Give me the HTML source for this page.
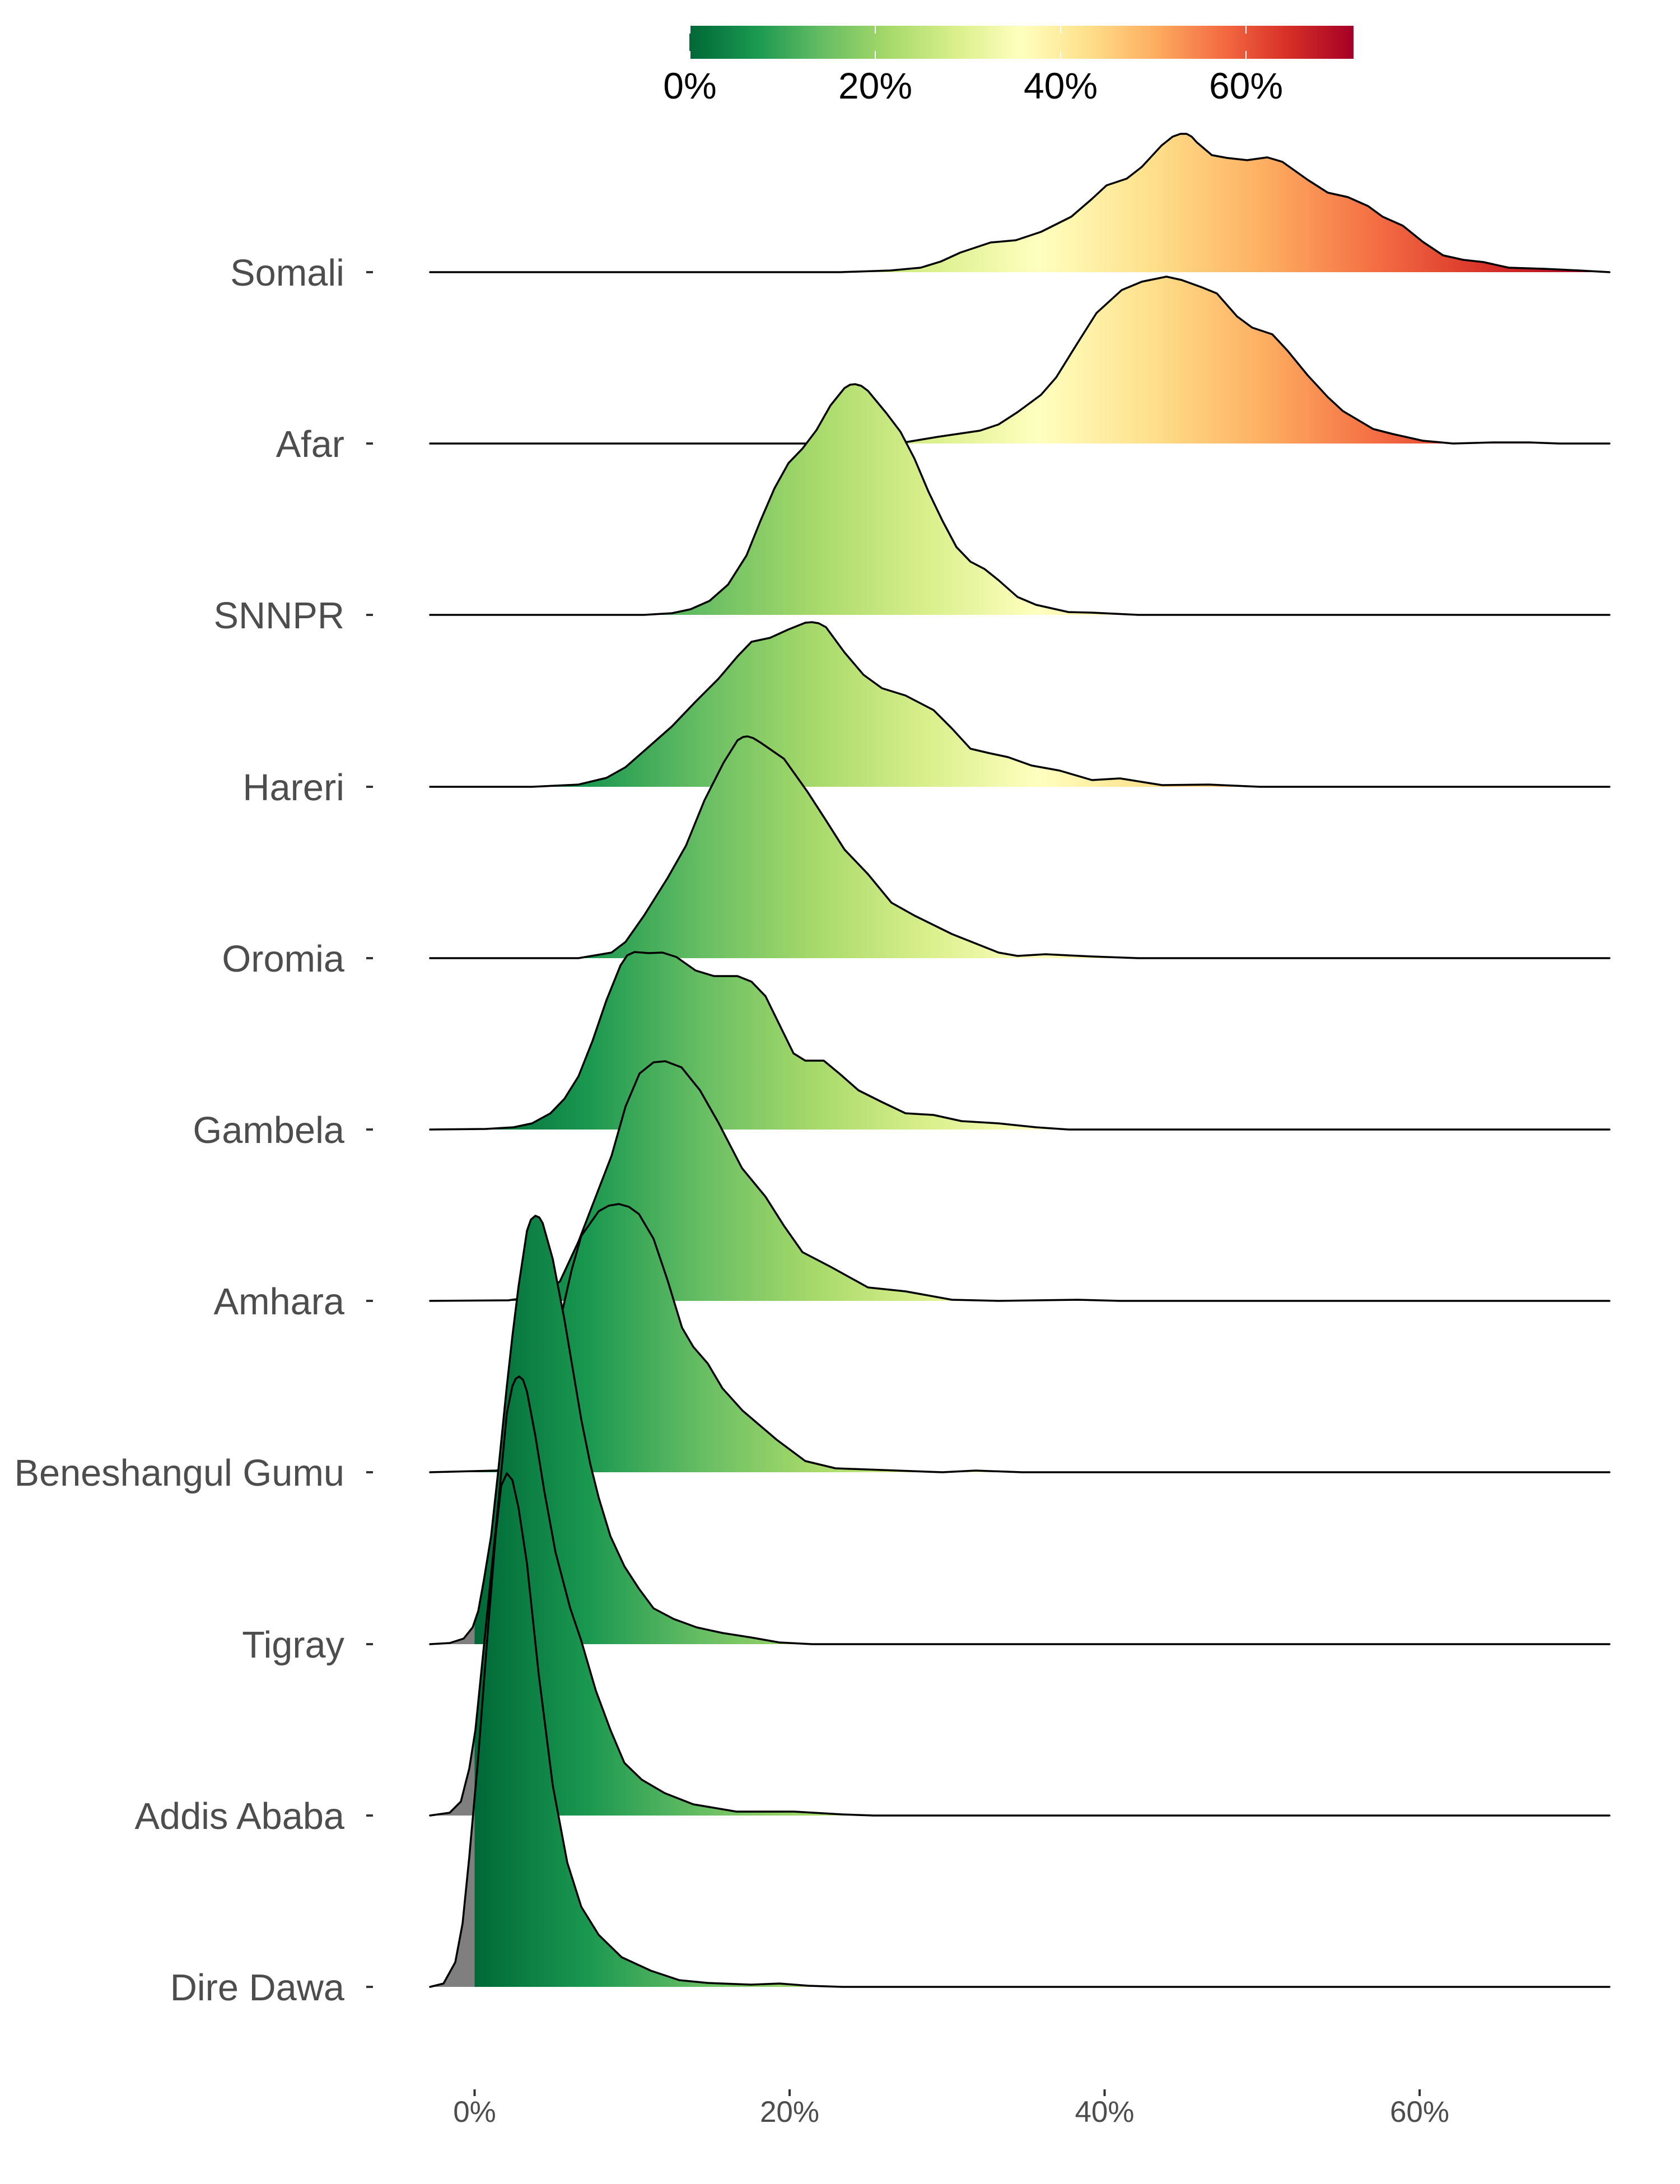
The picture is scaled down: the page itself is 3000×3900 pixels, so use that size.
<!DOCTYPE html>
<html><head><meta charset="utf-8"><style>
html,body{margin:0;padding:0;background:#fff;}
svg{display:block;}
text{font-family:"Liberation Sans",Arial,sans-serif;}
</style></head><body>
<svg width="3000" height="3900" viewBox="0 0 3000 3900" xmlns="http://www.w3.org/2000/svg">
<defs>
<linearGradient id="g" gradientUnits="userSpaceOnUse" x1="768" y1="0" x2="2864" y2="0">
<stop offset="0" stop-color="#7f7f7f"/>
<stop offset="0.0379" stop-color="#7f7f7f"/>
<stop offset="0.0379" stop-color="#006837"/>
<stop offset="0.1341" stop-color="#1a9850"/>
<stop offset="0.2303" stop-color="#66bd63"/>
<stop offset="0.3265" stop-color="#a6d96a"/>
<stop offset="0.4227" stop-color="#d9ef8b"/>
<stop offset="0.5190" stop-color="#ffffbf"/>
<stop offset="0.6152" stop-color="#fee08b"/>
<stop offset="0.7114" stop-color="#fdae61"/>
<stop offset="0.8076" stop-color="#f46d43"/>
<stop offset="0.9038" stop-color="#d73027"/>
<stop offset="1" stop-color="#a50026"/>
</linearGradient>
<linearGradient id="cb" gradientUnits="userSpaceOnUse" x1="1231" y1="0" x2="2417" y2="0">
<stop offset="0" stop-color="#006837"/>
<stop offset="0.1" stop-color="#1a9850"/>
<stop offset="0.2" stop-color="#66bd63"/>
<stop offset="0.3" stop-color="#a6d96a"/>
<stop offset="0.4" stop-color="#d9ef8b"/>
<stop offset="0.5" stop-color="#ffffbf"/>
<stop offset="0.6" stop-color="#fee08b"/>
<stop offset="0.7" stop-color="#fdae61"/>
<stop offset="0.8" stop-color="#f46d43"/>
<stop offset="0.9" stop-color="#d73027"/>
<stop offset="1" stop-color="#a50026"/>
</linearGradient>
</defs>
<rect x="0" y="0" width="3000" height="3900" fill="#fff"/>

<!-- Colorbar -->
<rect x="1231" y="46" width="1186" height="59" fill="url(#cb)"/>
<g stroke="#fff" stroke-width="2">
<line x1="1232" y1="46" x2="1232" y2="60"/><line x1="1232" y1="91" x2="1232" y2="105"/>
<line x1="1563" y1="46" x2="1563" y2="60"/><line x1="1563" y1="91" x2="1563" y2="105"/>
<line x1="1894" y1="46" x2="1894" y2="60"/><line x1="1894" y1="91" x2="1894" y2="105"/>
<line x1="2225" y1="46" x2="2225" y2="60"/><line x1="2225" y1="91" x2="2225" y2="105"/>
</g>
<g font-size="66" fill="#000" text-anchor="middle">
<text x="1232" y="176">0%</text>
<text x="1563" y="176">20%</text>
<text x="1894" y="176">40%</text>
<text x="2225" y="176">60%</text>
</g>

<g stroke="#000" stroke-width="3.5" stroke-linejoin="round" stroke-linecap="round">
<!-- Somali -->
<polygon fill="url(#g)" stroke="none" points="768,486 1500,486 1590,483 1644,478 1680,467 1715,451 1769,433 1814,429 1859,414 1913,387 1949,356 1976,331 2012,319 2039,298 2074,260 2094,244 2108,239 2119,239 2128,244 2137,254 2164,277 2191,282 2227,286 2263,281 2290,289 2335,321 2371,344 2407,352 2443,368 2469,387 2505,403 2541,432 2577,456 2613,464 2649,468 2694,478 2757,480 2820,483 2874,486"/>
<polyline fill="none" points="768,486 1500,486 1590,483 1644,478 1680,467 1715,451 1769,433 1814,429 1859,414 1913,387 1949,356 1976,331 2012,319 2039,298 2074,260 2094,244 2108,239 2119,239 2128,244 2137,254 2164,277 2191,282 2227,286 2263,281 2290,289 2335,321 2371,344 2407,352 2443,368 2469,387 2505,403 2541,432 2577,456 2613,464 2649,468 2694,478 2757,480 2820,483 2874,486"/>
<!-- Afar -->
<polygon fill="url(#g)" stroke="none" points="768,792 1560,792 1621,789 1675,780 1750,769 1783,758 1817,736 1859,705 1886,674 1922,616 1958,559 2003,518 2039,503 2083,494 2110,500 2146,513 2173,524 2209,565 2236,585 2272,597 2299,626 2335,670 2371,709 2398,734 2452,766 2487,775 2541,787 2595,792 2667,790 2730,790 2784,792 2874,792"/>
<polyline fill="none" points="768,792 1560,792 1621,789 1675,780 1750,769 1783,758 1817,736 1859,705 1886,674 1922,616 1958,559 2003,518 2039,503 2083,494 2110,500 2146,513 2173,524 2209,565 2236,585 2272,597 2299,626 2335,670 2371,709 2398,734 2452,766 2487,775 2541,787 2595,792 2667,790 2730,790 2784,792 2874,792"/>
<!-- SNNPR -->
<polygon fill="url(#g)" stroke="none" points="768,1098 1150,1098 1200,1095 1233,1088 1267,1073 1300,1044 1333,992 1358,930 1383,872 1408,827 1433,801 1458,768 1483,724 1508,693 1518,687 1527,686 1538,689 1550,698 1583,738 1608,771 1633,819 1658,878 1683,930 1708,977 1733,1003 1758,1016 1783,1036 1817,1066 1850,1080 1908,1093 1950,1094 2033,1098 2874,1098"/>
<polyline fill="none" points="768,1098 1150,1098 1200,1095 1233,1088 1267,1073 1300,1044 1333,992 1358,930 1383,872 1408,827 1433,801 1458,768 1483,724 1508,693 1518,687 1527,686 1538,689 1550,698 1583,738 1608,771 1633,819 1658,878 1683,930 1708,977 1733,1003 1758,1016 1783,1036 1817,1066 1850,1080 1908,1093 1950,1094 2033,1098 2874,1098"/>
<!-- Hareri -->
<polygon fill="url(#g)" stroke="none" points="768,1405 950,1405 1033,1401 1083,1389 1117,1370 1158,1334 1200,1297 1242,1253 1283,1212 1317,1172 1342,1146 1375,1139 1408,1124 1438,1112 1450,1111 1462,1113 1475,1120 1508,1165 1542,1205 1575,1229 1617,1242 1667,1268 1700,1301 1733,1337 1767,1345 1800,1352 1842,1367 1892,1376 1950,1393 2000,1390 2075,1402 2158,1401 2250,1405 2874,1405"/>
<polyline fill="none" points="768,1405 950,1405 1033,1401 1083,1389 1117,1370 1158,1334 1200,1297 1242,1253 1283,1212 1317,1172 1342,1146 1375,1139 1408,1124 1438,1112 1450,1111 1462,1113 1475,1120 1508,1165 1542,1205 1575,1229 1617,1242 1667,1268 1700,1301 1733,1337 1767,1345 1800,1352 1842,1367 1892,1376 1950,1393 2000,1390 2075,1402 2158,1401 2250,1405 2874,1405"/>
<!-- Oromia -->
<polygon fill="url(#g)" stroke="none" points="768,1711 1033,1711 1092,1701 1117,1682 1150,1635 1192,1568 1225,1510 1258,1429 1292,1362 1317,1322 1327,1316 1335,1315 1345,1318 1358,1326 1400,1355 1442,1414 1475,1465 1508,1517 1550,1561 1592,1612 1633,1635 1700,1668 1783,1701 1817,1707 1867,1704 1950,1708 2033,1711 2874,1711"/>
<polyline fill="none" points="768,1711 1033,1711 1092,1701 1117,1682 1150,1635 1192,1568 1225,1510 1258,1429 1292,1362 1317,1322 1327,1316 1335,1315 1345,1318 1358,1326 1400,1355 1442,1414 1475,1465 1508,1517 1550,1561 1592,1612 1633,1635 1700,1668 1783,1701 1817,1707 1867,1704 1950,1708 2033,1711 2874,1711"/>
<!-- Gambela -->
<polygon fill="url(#g)" stroke="none" points="768,2017 867,2016 917,2013 950,2006 983,1988 1008,1962 1033,1922 1058,1859 1083,1786 1108,1724 1120,1706 1133,1700 1158,1702 1183,1701 1208,1709 1242,1733 1275,1743 1317,1743 1342,1753 1367,1779 1392,1830 1417,1881 1438,1894 1471,1894 1500,1918 1533,1947 1575,1968 1617,1988 1667,1991 1717,2002 1783,2006 1850,2013 1908,2017 2874,2017"/>
<polyline fill="none" points="768,2017 867,2016 917,2013 950,2006 983,1988 1008,1962 1033,1922 1058,1859 1083,1786 1108,1724 1120,1706 1133,1700 1158,1702 1183,1701 1208,1709 1242,1733 1275,1743 1317,1743 1342,1753 1367,1779 1392,1830 1417,1881 1438,1894 1471,1894 1500,1918 1533,1947 1575,1968 1617,1988 1667,1991 1717,2002 1783,2006 1850,2013 1908,2017 2874,2017"/>
<!-- Amhara -->
<polygon fill="url(#g)" stroke="none" points="768,2323 908,2322 950,2316 983,2302 1000,2288 1033,2217 1058,2152 1092,2064 1117,1976 1142,1917 1167,1897 1188,1895 1217,1906 1250,1947 1283,2005 1325,2086 1367,2137 1400,2189 1433,2236 1483,2262 1550,2299 1617,2306 1700,2321 1783,2323 1925,2321 2000,2323 2874,2323"/>
<polyline fill="none" points="768,2323 908,2322 950,2316 983,2302 1000,2288 1033,2217 1058,2152 1092,2064 1117,1976 1142,1917 1167,1897 1188,1895 1217,1906 1250,1947 1283,2005 1325,2086 1367,2137 1400,2189 1433,2236 1483,2262 1550,2299 1617,2306 1700,2321 1783,2323 1925,2321 2000,2323 2874,2323"/>
<!-- Beneshangul Gumu -->
<polygon fill="url(#g)" stroke="none" points="768,2629 885,2626 915,2623 946,2608 972,2544 990,2445 1003,2346 1021,2267 1038,2207 1069,2163 1087,2153 1105,2150 1123,2155 1141,2168 1167,2212 1192,2286 1218,2371 1238,2405 1264,2435 1290,2479 1326,2519 1387,2571 1438,2609 1492,2622 1575,2625 1683,2629 1742,2626 1825,2629 2874,2629"/>
<polyline fill="none" points="768,2629 885,2626 915,2623 946,2608 972,2544 990,2445 1003,2346 1021,2267 1038,2207 1069,2163 1087,2153 1105,2150 1123,2155 1141,2168 1167,2212 1192,2286 1218,2371 1238,2405 1264,2435 1290,2479 1326,2519 1387,2571 1438,2609 1492,2622 1575,2625 1683,2629 1742,2626 1825,2629 2874,2629"/>
<!-- Tigray -->
<polygon fill="url(#g)" stroke="none" points="768,2936 803,2934 828,2926 844,2906 854,2877 864,2822 877,2743 890,2624 905,2476 915,2386 926,2297 941,2198 948,2178 956,2171 963,2174 969,2184 987,2248 1008,2357 1023,2446 1038,2535 1054,2614 1069,2674 1090,2743 1115,2797 1141,2837 1167,2872 1203,2891 1244,2906 1290,2916 1341,2924 1392,2933 1450,2936 2874,2936"/>
<polyline fill="none" points="768,2936 803,2934 828,2926 844,2906 854,2877 864,2822 877,2743 890,2624 905,2476 915,2386 926,2297 941,2198 948,2178 956,2171 963,2174 969,2184 987,2248 1008,2357 1023,2446 1038,2535 1054,2614 1069,2674 1090,2743 1115,2797 1141,2837 1167,2872 1203,2891 1244,2906 1290,2916 1341,2924 1392,2933 1450,2936 2874,2936"/>
<!-- Addis Ababa -->
<polygon fill="url(#g)" stroke="none" points="768,3242 803,3237 823,3217 838,3158 849,3089 859,2990 874,2841 890,2683 905,2524 915,2475 921,2462 927,2458 934,2464 941,2485 956,2564 972,2663 992,2772 1018,2871 1038,2930 1064,3019 1090,3089 1115,3148 1146,3178 1187,3202 1238,3222 1315,3235 1418,3235 1504,3240 1560,3242 2874,3242"/>
<polyline fill="none" points="768,3242 803,3237 823,3217 838,3158 849,3089 859,2990 874,2841 890,2683 905,2524 915,2475 921,2462 927,2458 934,2464 941,2485 956,2564 972,2663 992,2772 1018,2871 1038,2930 1064,3019 1090,3089 1115,3148 1146,3178 1187,3202 1238,3222 1315,3235 1418,3235 1504,3240 1560,3242 2874,3242"/>
<!-- Dire Dawa -->
<polygon fill="url(#g)" stroke="none" points="768,3548 792,3542 813,3504 826,3435 838,3316 854,3138 869,2940 885,2742 895,2653 905,2631 915,2643 926,2693 941,2792 962,2990 987,3188 1013,3326 1038,3405 1069,3455 1110,3495 1162,3519 1213,3536 1264,3541 1341,3544 1392,3542 1444,3546 1504,3548 2874,3548"/>
<polyline fill="none" points="768,3548 792,3542 813,3504 826,3435 838,3316 854,3138 869,2940 885,2742 895,2653 905,2631 915,2643 926,2693 941,2792 962,2990 987,3188 1013,3326 1038,3405 1069,3455 1110,3495 1162,3519 1213,3536 1264,3541 1341,3544 1392,3542 1444,3546 1504,3548 2874,3548"/>
</g>

<!-- Y axis ticks -->
<g stroke="#333" stroke-width="4">
<line x1="654" y1="486" x2="666" y2="486"/>
<line x1="654" y1="792" x2="666" y2="792"/>
<line x1="654" y1="1098" x2="666" y2="1098"/>
<line x1="654" y1="1405" x2="666" y2="1405"/>
<line x1="654" y1="1711" x2="666" y2="1711"/>
<line x1="654" y1="2017" x2="666" y2="2017"/>
<line x1="654" y1="2323" x2="666" y2="2323"/>
<line x1="654" y1="2629" x2="666" y2="2629"/>
<line x1="654" y1="2936" x2="666" y2="2936"/>
<line x1="654" y1="3242" x2="666" y2="3242"/>
<line x1="654" y1="3548" x2="666" y2="3548"/>
</g>
<g font-size="66.7" fill="#4d4d4d" text-anchor="end">
<text x="615" y="510">Somali</text>
<text x="615" y="816">Afar</text>
<text x="615" y="1122">SNNPR</text>
<text x="615" y="1429">Hareri</text>
<text x="615" y="1735">Oromia</text>
<text x="615" y="2041">Gambela</text>
<text x="615" y="2347">Amhara</text>
<text x="615" y="2653">Beneshangul Gumu</text>
<text x="615" y="2960">Tigray</text>
<text x="615" y="3266">Addis Ababa</text>
<text x="615" y="3572">Dire Dawa</text>
</g>

<!-- X axis ticks -->
<g stroke="#333" stroke-width="4">
<line x1="847.5" y1="3731" x2="847.5" y2="3743"/>
<line x1="1410" y1="3731" x2="1410" y2="3743"/>
<line x1="1972.5" y1="3731" x2="1972.5" y2="3743"/>
<line x1="2535" y1="3731" x2="2535" y2="3743"/>
</g>
<g font-size="53" fill="#4d4d4d" text-anchor="middle">
<text x="847.5" y="3789">0%</text>
<text x="1410" y="3789">20%</text>
<text x="1972.5" y="3789">40%</text>
<text x="2535" y="3789">60%</text>
</g>
</svg>
</body></html>
